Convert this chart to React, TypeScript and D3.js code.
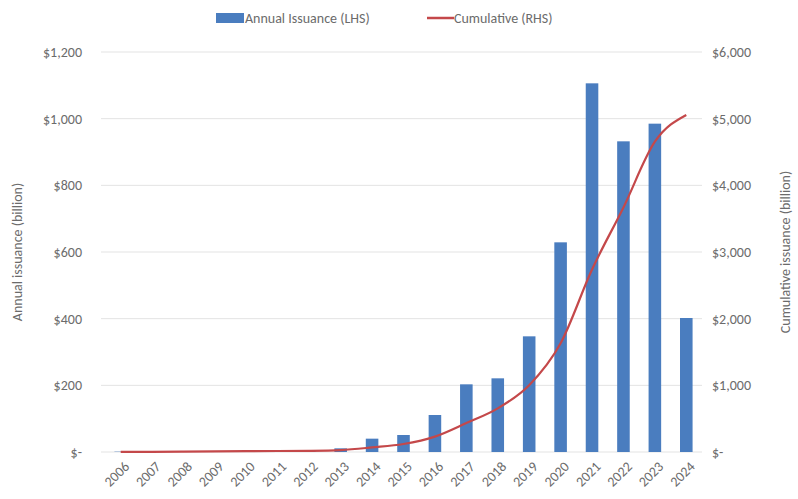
import React, { useEffect, useRef } from 'react';
import * as d3 from 'd3';

const years = ['2006', '2007', '2008', '2009', '2010', '2011', '2012', '2013', '2014', '2015', '2016', '2017', '2018', '2019', '2020', '2021', '2022', '2023', '2024'];
const annual = [1, 2, 3, 3, 3, 3, 3, 11, 40, 51, 111, 203, 221, 347, 629, 1106, 932, 985, 402];
const cumulative = [1, 3, 6, 9, 12, 15, 18, 29, 69, 120, 231, 434, 655, 1002, 1631, 2737, 3669, 4654, 5056];
const leftTicks = [0, 200, 400, 600, 800, 1000, 1200];
const rightTicks = [0, 1000, 2000, 3000, 4000, 5000, 6000];

const W = 798;
const H = 499;
const FONT = 'Carlito, "Liberation Sans", "Open Sans", sans-serif';
const TEXT = '#6b6b6b';

const fmt = (v: number) => (v === 0 ? '$-' : '$' + d3.format(',')(v));

const App: React.FC = () => {
  const ref = useRef<SVGSVGElement | null>(null);

  useEffect(() => {
    const svg = d3.select(ref.current);
    svg.selectAll('*').remove();

    const margin = { top: 52, right: 96, bottom: 47, left: 105 };
    const innerW = W - margin.left - margin.right;
    const innerH = H - margin.top - margin.bottom;

    const g = svg.append('g').attr('transform', `translate(${margin.left},${margin.top})`);

    const x = d3.scaleBand().domain(years).range([0, innerW]).paddingInner(0.6).paddingOuter(0.3);
    const yL = d3.scaleLinear().domain([0, 1200]).range([innerH, 0]);
    const yR = d3.scaleLinear().domain([0, 6000]).range([innerH, 0]);

    // gridlines
    g.append('g')
      .selectAll('line')
      .data(leftTicks)
      .join('line')
      .attr('x1', -4)
      .attr('x2', innerW)
      .attr('y1', (d) => yL(d))
      .attr('y2', (d) => yL(d))
      .attr('stroke', '#e3e3e3')
      .attr('stroke-width', 1);

    // left axis labels
    g.append('g')
      .selectAll('text')
      .data(leftTicks)
      .join('text')
      .attr('x', -23)
      .attr('y', (d) => yL(d))
      .attr('dy', '0.35em')
      .attr('text-anchor', 'end')
      .attr('font-size', 14)
      .attr('font-family', FONT)
      .attr('fill', TEXT)
      .text((d) => fmt(d));

    // right axis labels
    g.append('g')
      .selectAll('text')
      .data(rightTicks)
      .join('text')
      .attr('x', innerW + 10)
      .attr('y', (d) => yR(d))
      .attr('dy', '0.35em')
      .attr('text-anchor', 'start')
      .attr('font-size', 14)
      .attr('font-family', FONT)
      .attr('fill', TEXT)
      .text((d) => fmt(d));

    // bars
    g.append('g')
      .selectAll('rect')
      .data(years)
      .join('rect')
      .attr('x', (d) => x(d) as number)
      .attr('width', x.bandwidth())
      .attr('y', (_, i) => yL(annual[i]))
      .attr('height', (_, i) => innerH - yL(annual[i]))
      .attr('fill', '#4a7dbf');

    // cumulative line
    const line = d3
      .line<number>()
      .x((_, i) => (x(years[i]) as number) + x.bandwidth() / 2)
      .y((d) => yR(d))
      .curve(d3.curveMonotoneX);

    g.append('path')
      .datum(cumulative)
      .attr('fill', 'none')
      .attr('stroke', '#c4484a')
      .attr('stroke-width', 2.2)
      .attr('d', line);

    // x labels
    g.append('g')
      .selectAll('text')
      .data(years)
      .join('text')
      .attr('transform', (d) => `translate(${(x(d) as number) + x.bandwidth() / 2 + 6},${innerH + 12}) rotate(-45)`)
      .attr('text-anchor', 'end')
      .attr('dy', '0.35em')
      .attr('font-size', 14)
      .attr('font-family', FONT)
      .attr('fill', TEXT)
      .text((d) => d);

    // axis titles
    svg.append('text')
      .attr('transform', `translate(22,${margin.top + innerH / 2}) rotate(-90)`)
      .attr('text-anchor', 'middle')
      .attr('font-size', 14)
      .attr('font-family', FONT)
      .attr('fill', TEXT)
      .text('Annual issuance (billion)');

    svg.append('text')
      .attr('transform', `translate(790,${margin.top + innerH / 2}) rotate(-90)`)
      .attr('text-anchor', 'middle')
      .attr('font-size', 14)
      .attr('font-family', FONT)
      .attr('fill', TEXT)
      .text('Cumulative issuance (billion)');

    // legend
    const leg = svg.append('g').attr('transform', 'translate(216,18)');
    leg.append('rect').attr('x', 0).attr('y', -5).attr('width', 28).attr('height', 10).attr('fill', '#4a7dbf');
    leg.append('text')
      .attr('x', 29)
      .attr('y', 0)
      .attr('dy', '0.35em')
      .attr('font-size', 14)
      .attr('font-family', FONT)
      .attr('fill', TEXT)
      .text('Annual Issuance (LHS)');
    leg.append('line')
      .attr('x1', 211)
      .attr('x2', 238)
      .attr('y1', 0)
      .attr('y2', 0)
      .attr('stroke', '#c4484a')
      .attr('stroke-width', 2.5);
    leg.append('text')
      .attr('x', 238)
      .attr('y', 0)
      .attr('dy', '0.35em')
      .attr('font-size', 14)
      .attr('font-family', FONT)
      .attr('fill', TEXT)
      .text('Cumulative (RHS)');
  }, []);

  return (
    <svg
      ref={ref}
      width={W}
      height={H}
      style={{ position: 'absolute', left: 0, top: 0, background: '#fff' }}
    ></svg>
  );
};

export default App;
